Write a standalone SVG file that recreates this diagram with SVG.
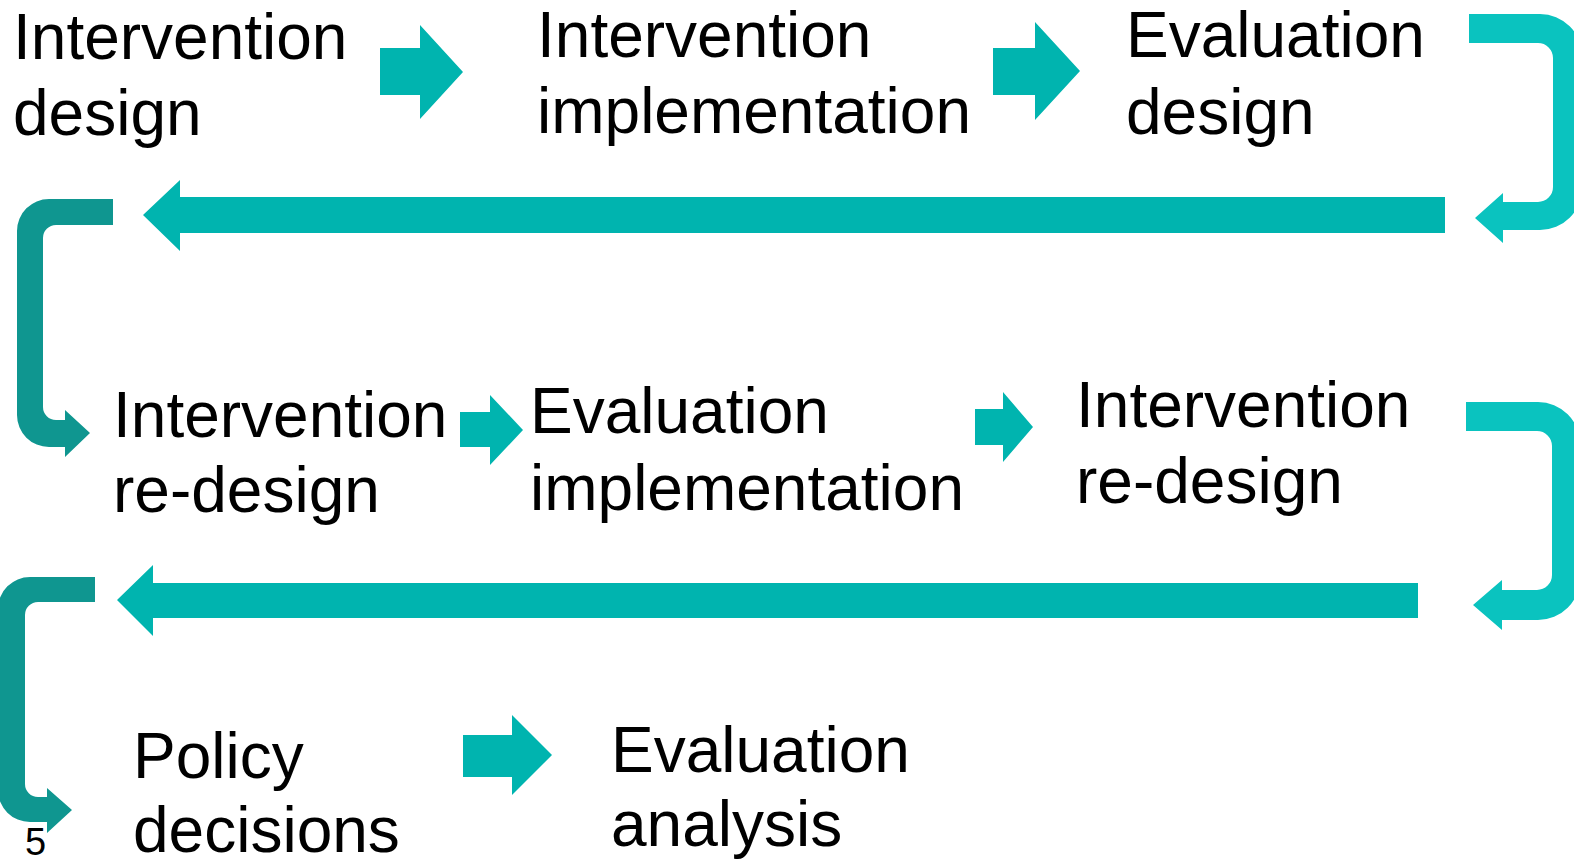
<svg xmlns="http://www.w3.org/2000/svg" width="1574" height="863" viewBox="0 0 1574 863">
<style>
.t{font-family:"Liberation Sans",Arial,sans-serif;font-size:64px;fill:#000}
.a{fill:#00b4af}
.r{fill:#0ac3bf}
.l{fill:#0f9690}
</style>
<rect width="1574" height="863" fill="#fff"/>
<g id="connectors">
<path class="a" d="M380,48 H420 V25 L463,72 L420,119 V95 H380 Z"/>
<path class="a" d="M993,48 H1035 V22 L1080,71 L1035,120 V95 H993 Z"/>
<path class="r" d="M1469,14 H1540 A42,42 0 0 1 1582,56 V188 A42,42 0 0 1 1540,230 H1503 V243 L1475,218 L1503,193 V202 H1538 A15,15 0 0 0 1553,187 V58 A15,15 0 0 0 1538,43 H1469 Z"/>
<path class="a" d="M1445,197 H180 V180 L143,215 L180,251 V233 H1445 Z"/>
<path class="l" d="M113,199 H49 A32,32 0 0 0 17,231 V415 A32,32 0 0 0 49,447 H65 V457 L90,433 L65,410 V420 H56 A13,13 0 0 1 43,407 V238 A13,13 0 0 1 56,225 H113 Z"/>
<path class="a" d="M460,412 H490 V395 L523,430 L490,465 V447 H460 Z"/>
<path class="a" d="M975,409 H1003 V392 L1033,427 L1003,462 V445 H975 Z"/>
<path class="r" d="M1466,402 H1538 A42,42 0 0 1 1580,444 V578 A42,42 0 0 1 1538,620 H1502 V630 L1473,605 L1502,580 V590 H1537 A15,15 0 0 0 1552,575 V446 A15,15 0 0 0 1537,431 H1466 Z"/>
<path class="a" d="M1418,583 H153 V565 L117,600 L153,636 V618 H1418 Z"/>
<path class="l" d="M95,577 H30 A32,32 0 0 0 -2,609 V790 A32,32 0 0 0 30,822 H47 V833 L72,810 L47,788 V797 H38 A13,13 0 0 1 25,784 V615 A13,13 0 0 1 38,602 H95 Z"/>
<path class="a" d="M463,735 H512 V715 L552,755 L512,795 V777 H463 Z"/>
</g>
<g id="n1"><text class="t" x="13" y="59">Intervention</text><text class="t" x="13" y="135">design</text></g>
<g id="n2"><text class="t" x="537" y="57">Intervention</text><text class="t" x="537" y="133">implementation</text></g>
<g id="n3"><text class="t" x="1126" y="57">Evaluation</text><text class="t" x="1126" y="134">design</text></g>
<g id="n4"><text class="t" x="113" y="437">Intervention</text><text class="t" x="113" y="512">re-design</text></g>
<g id="n5"><text class="t" x="530" y="433">Evaluation</text><text class="t" x="530" y="510">implementation</text></g>
<g id="n6"><text class="t" x="1076" y="427">Intervention</text><text class="t" x="1076" y="503">re-design</text></g>
<g id="n7"><text class="t" x="133" y="778">Policy</text><text class="t" x="133" y="852">decisions</text></g>
<g id="n8"><text class="t" x="611" y="772">Evaluation</text><text class="t" x="611" y="846">analysis</text></g>
<g id="page"><text x="25" y="855" style="font-family:'Liberation Sans',Arial,sans-serif;font-size:38px;fill:#000">5</text></g>
</svg>
